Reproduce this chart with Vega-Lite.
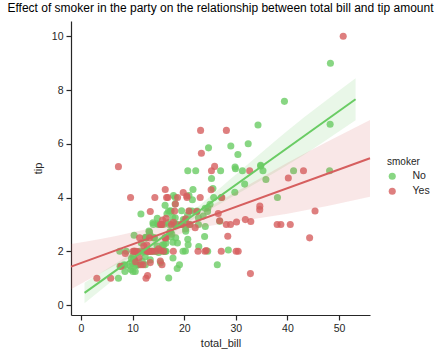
{
  "$schema": "https://vega.github.io/schema/vega-lite/v6.json",
  "autosize": "none",
  "width": 299,
  "height": 294,
  "padding": {"left": 71, "top": 21, "right": 70, "bottom": 41},
  "title": {"text": "Effect of smoker in the party on the relationship between total bill and tip amount", "fontSize": 12, "fontWeight": "normal", "color": "#000000", "offset": 6, "anchor": "middle"},
  "config": {
    "font": "Liberation Sans",
    "view": {"stroke": null},
    "axis": {"grid": false, "domainColor": "#262626", "tickColor": "#262626", "labelColor": "#262626", "titleColor": "#262626", "labelFontSize": 10.5, "titleFontSize": 11, "titleFontWeight": "normal", "tickSize": 5, "domainWidth": 1.2, "tickWidth": 1.2, "labelPadding": 3},
    "legend": {"titleFontSize": 10, "labelFontSize": 10.5, "titleFontWeight": "normal", "titleColor": "#262626", "labelColor": "#262626"}
  },
  "datasets": {
    "tips": [
{"total_bill":16.99,"tip":1.01,"smoker":"No"},
{"total_bill":10.34,"tip":1.66,"smoker":"No"},
{"total_bill":21.01,"tip":3.5,"smoker":"No"},
{"total_bill":23.68,"tip":3.31,"smoker":"No"},
{"total_bill":24.59,"tip":3.61,"smoker":"No"},
{"total_bill":25.29,"tip":4.71,"smoker":"No"},
{"total_bill":8.77,"tip":2.0,"smoker":"No"},
{"total_bill":26.88,"tip":3.12,"smoker":"No"},
{"total_bill":15.04,"tip":1.96,"smoker":"No"},
{"total_bill":14.78,"tip":3.23,"smoker":"No"},
{"total_bill":10.27,"tip":1.71,"smoker":"No"},
{"total_bill":35.26,"tip":5.0,"smoker":"No"},
{"total_bill":15.42,"tip":1.57,"smoker":"No"},
{"total_bill":18.43,"tip":3.0,"smoker":"No"},
{"total_bill":14.83,"tip":3.02,"smoker":"No"},
{"total_bill":21.58,"tip":3.92,"smoker":"No"},
{"total_bill":10.33,"tip":1.67,"smoker":"No"},
{"total_bill":16.29,"tip":3.71,"smoker":"No"},
{"total_bill":16.97,"tip":3.5,"smoker":"No"},
{"total_bill":20.65,"tip":3.35,"smoker":"No"},
{"total_bill":17.92,"tip":4.08,"smoker":"No"},
{"total_bill":20.29,"tip":2.75,"smoker":"No"},
{"total_bill":15.77,"tip":2.23,"smoker":"No"},
{"total_bill":39.42,"tip":7.58,"smoker":"No"},
{"total_bill":19.82,"tip":3.18,"smoker":"No"},
{"total_bill":17.81,"tip":2.34,"smoker":"No"},
{"total_bill":13.37,"tip":2.0,"smoker":"No"},
{"total_bill":12.69,"tip":2.0,"smoker":"No"},
{"total_bill":21.7,"tip":4.3,"smoker":"No"},
{"total_bill":19.65,"tip":3.0,"smoker":"No"},
{"total_bill":9.55,"tip":1.45,"smoker":"No"},
{"total_bill":18.35,"tip":2.5,"smoker":"No"},
{"total_bill":15.06,"tip":3.0,"smoker":"No"},
{"total_bill":20.69,"tip":2.45,"smoker":"No"},
{"total_bill":17.78,"tip":3.27,"smoker":"No"},
{"total_bill":24.06,"tip":3.6,"smoker":"No"},
{"total_bill":16.31,"tip":2.0,"smoker":"No"},
{"total_bill":16.93,"tip":3.07,"smoker":"No"},
{"total_bill":18.69,"tip":2.31,"smoker":"No"},
{"total_bill":31.27,"tip":5.0,"smoker":"No"},
{"total_bill":16.04,"tip":2.24,"smoker":"No"},
{"total_bill":17.46,"tip":2.54,"smoker":"No"},
{"total_bill":13.94,"tip":3.06,"smoker":"No"},
{"total_bill":9.68,"tip":1.32,"smoker":"No"},
{"total_bill":30.4,"tip":5.6,"smoker":"No"},
{"total_bill":18.29,"tip":3.0,"smoker":"No"},
{"total_bill":22.23,"tip":5.0,"smoker":"No"},
{"total_bill":32.4,"tip":6.0,"smoker":"No"},
{"total_bill":28.55,"tip":2.05,"smoker":"No"},
{"total_bill":18.04,"tip":3.0,"smoker":"No"},
{"total_bill":12.54,"tip":2.5,"smoker":"No"},
{"total_bill":10.29,"tip":2.6,"smoker":"No"},
{"total_bill":34.81,"tip":5.2,"smoker":"No"},
{"total_bill":9.94,"tip":1.56,"smoker":"No"},
{"total_bill":25.56,"tip":4.34,"smoker":"No"},
{"total_bill":19.49,"tip":3.51,"smoker":"No"},
{"total_bill":38.01,"tip":3.0,"smoker":"Yes"},
{"total_bill":26.41,"tip":1.5,"smoker":"No"},
{"total_bill":11.24,"tip":1.76,"smoker":"Yes"},
{"total_bill":48.27,"tip":6.73,"smoker":"No"},
{"total_bill":20.29,"tip":3.21,"smoker":"Yes"},
{"total_bill":13.81,"tip":2.0,"smoker":"Yes"},
{"total_bill":11.02,"tip":1.98,"smoker":"Yes"},
{"total_bill":18.29,"tip":3.76,"smoker":"Yes"},
{"total_bill":17.59,"tip":2.64,"smoker":"No"},
{"total_bill":20.08,"tip":3.15,"smoker":"No"},
{"total_bill":16.45,"tip":2.47,"smoker":"No"},
{"total_bill":3.07,"tip":1.0,"smoker":"Yes"},
{"total_bill":20.23,"tip":2.01,"smoker":"No"},
{"total_bill":15.01,"tip":2.09,"smoker":"Yes"},
{"total_bill":12.02,"tip":1.97,"smoker":"No"},
{"total_bill":17.07,"tip":3.0,"smoker":"No"},
{"total_bill":26.86,"tip":3.14,"smoker":"Yes"},
{"total_bill":25.28,"tip":5.0,"smoker":"Yes"},
{"total_bill":14.73,"tip":2.2,"smoker":"No"},
{"total_bill":10.51,"tip":1.25,"smoker":"No"},
{"total_bill":17.92,"tip":3.08,"smoker":"Yes"},
{"total_bill":27.2,"tip":4.0,"smoker":"No"},
{"total_bill":22.76,"tip":3.0,"smoker":"No"},
{"total_bill":17.29,"tip":2.71,"smoker":"No"},
{"total_bill":19.44,"tip":3.0,"smoker":"Yes"},
{"total_bill":16.66,"tip":3.4,"smoker":"No"},
{"total_bill":10.07,"tip":1.83,"smoker":"No"},
{"total_bill":32.68,"tip":5.0,"smoker":"Yes"},
{"total_bill":15.98,"tip":2.03,"smoker":"No"},
{"total_bill":34.83,"tip":5.17,"smoker":"No"},
{"total_bill":13.03,"tip":2.0,"smoker":"No"},
{"total_bill":18.28,"tip":4.0,"smoker":"No"},
{"total_bill":24.71,"tip":5.85,"smoker":"No"},
{"total_bill":21.16,"tip":3.0,"smoker":"No"},
{"total_bill":28.97,"tip":3.0,"smoker":"Yes"},
{"total_bill":22.49,"tip":3.5,"smoker":"No"},
{"total_bill":5.75,"tip":1.0,"smoker":"Yes"},
{"total_bill":16.32,"tip":4.3,"smoker":"Yes"},
{"total_bill":22.75,"tip":3.25,"smoker":"No"},
{"total_bill":40.17,"tip":4.73,"smoker":"Yes"},
{"total_bill":27.28,"tip":4.0,"smoker":"Yes"},
{"total_bill":12.03,"tip":1.5,"smoker":"Yes"},
{"total_bill":21.01,"tip":3.0,"smoker":"Yes"},
{"total_bill":12.46,"tip":1.5,"smoker":"No"},
{"total_bill":11.35,"tip":2.5,"smoker":"Yes"},
{"total_bill":15.38,"tip":3.0,"smoker":"Yes"},
{"total_bill":44.3,"tip":2.5,"smoker":"Yes"},
{"total_bill":22.42,"tip":3.48,"smoker":"Yes"},
{"total_bill":20.92,"tip":4.08,"smoker":"No"},
{"total_bill":15.36,"tip":1.64,"smoker":"Yes"},
{"total_bill":20.49,"tip":4.06,"smoker":"Yes"},
{"total_bill":25.21,"tip":4.29,"smoker":"Yes"},
{"total_bill":18.24,"tip":3.76,"smoker":"No"},
{"total_bill":14.31,"tip":4.0,"smoker":"Yes"},
{"total_bill":14.0,"tip":3.0,"smoker":"No"},
{"total_bill":7.25,"tip":1.0,"smoker":"No"},
{"total_bill":38.07,"tip":4.0,"smoker":"No"},
{"total_bill":23.95,"tip":2.55,"smoker":"No"},
{"total_bill":25.71,"tip":4.0,"smoker":"No"},
{"total_bill":17.31,"tip":3.5,"smoker":"No"},
{"total_bill":29.93,"tip":5.07,"smoker":"No"},
{"total_bill":10.65,"tip":1.5,"smoker":"No"},
{"total_bill":12.43,"tip":1.8,"smoker":"No"},
{"total_bill":24.08,"tip":2.92,"smoker":"No"},
{"total_bill":11.69,"tip":2.31,"smoker":"No"},
{"total_bill":13.42,"tip":1.68,"smoker":"No"},
{"total_bill":14.26,"tip":2.5,"smoker":"No"},
{"total_bill":15.95,"tip":2.0,"smoker":"No"},
{"total_bill":12.48,"tip":2.52,"smoker":"No"},
{"total_bill":29.8,"tip":4.2,"smoker":"No"},
{"total_bill":8.52,"tip":1.48,"smoker":"No"},
{"total_bill":14.52,"tip":2.0,"smoker":"No"},
{"total_bill":11.38,"tip":2.0,"smoker":"No"},
{"total_bill":22.82,"tip":2.18,"smoker":"No"},
{"total_bill":19.08,"tip":1.5,"smoker":"No"},
{"total_bill":20.27,"tip":2.83,"smoker":"No"},
{"total_bill":11.17,"tip":1.5,"smoker":"No"},
{"total_bill":12.26,"tip":2.0,"smoker":"No"},
{"total_bill":18.26,"tip":3.25,"smoker":"No"},
{"total_bill":8.51,"tip":1.25,"smoker":"No"},
{"total_bill":10.33,"tip":2.0,"smoker":"No"},
{"total_bill":14.15,"tip":2.0,"smoker":"No"},
{"total_bill":16.0,"tip":2.0,"smoker":"Yes"},
{"total_bill":13.16,"tip":2.75,"smoker":"No"},
{"total_bill":17.47,"tip":3.5,"smoker":"No"},
{"total_bill":34.3,"tip":6.7,"smoker":"No"},
{"total_bill":41.19,"tip":5.0,"smoker":"No"},
{"total_bill":27.05,"tip":5.0,"smoker":"No"},
{"total_bill":16.43,"tip":2.3,"smoker":"No"},
{"total_bill":8.35,"tip":1.5,"smoker":"No"},
{"total_bill":18.64,"tip":1.36,"smoker":"No"},
{"total_bill":11.87,"tip":1.63,"smoker":"No"},
{"total_bill":9.78,"tip":1.73,"smoker":"No"},
{"total_bill":7.51,"tip":2.0,"smoker":"No"},
{"total_bill":14.07,"tip":2.5,"smoker":"No"},
{"total_bill":13.13,"tip":2.0,"smoker":"No"},
{"total_bill":17.26,"tip":2.74,"smoker":"No"},
{"total_bill":24.55,"tip":2.0,"smoker":"No"},
{"total_bill":19.77,"tip":2.0,"smoker":"No"},
{"total_bill":29.85,"tip":5.14,"smoker":"No"},
{"total_bill":48.17,"tip":5.0,"smoker":"No"},
{"total_bill":25.0,"tip":3.75,"smoker":"No"},
{"total_bill":13.39,"tip":2.61,"smoker":"No"},
{"total_bill":16.49,"tip":2.0,"smoker":"No"},
{"total_bill":21.5,"tip":3.5,"smoker":"No"},
{"total_bill":12.66,"tip":2.5,"smoker":"No"},
{"total_bill":16.21,"tip":2.0,"smoker":"No"},
{"total_bill":13.81,"tip":2.0,"smoker":"No"},
{"total_bill":17.51,"tip":3.0,"smoker":"Yes"},
{"total_bill":24.52,"tip":3.48,"smoker":"No"},
{"total_bill":20.76,"tip":2.24,"smoker":"No"},
{"total_bill":31.71,"tip":4.5,"smoker":"No"},
{"total_bill":10.59,"tip":1.61,"smoker":"Yes"},
{"total_bill":10.63,"tip":2.0,"smoker":"Yes"},
{"total_bill":50.81,"tip":10.0,"smoker":"Yes"},
{"total_bill":15.81,"tip":3.16,"smoker":"Yes"},
{"total_bill":7.25,"tip":5.15,"smoker":"Yes"},
{"total_bill":31.85,"tip":3.18,"smoker":"Yes"},
{"total_bill":16.82,"tip":4.0,"smoker":"Yes"},
{"total_bill":32.9,"tip":3.11,"smoker":"Yes"},
{"total_bill":17.89,"tip":2.0,"smoker":"Yes"},
{"total_bill":14.48,"tip":2.0,"smoker":"Yes"},
{"total_bill":9.6,"tip":4.0,"smoker":"Yes"},
{"total_bill":34.63,"tip":3.55,"smoker":"Yes"},
{"total_bill":34.65,"tip":3.68,"smoker":"Yes"},
{"total_bill":23.33,"tip":5.65,"smoker":"Yes"},
{"total_bill":45.35,"tip":3.5,"smoker":"Yes"},
{"total_bill":23.17,"tip":6.5,"smoker":"Yes"},
{"total_bill":40.55,"tip":3.0,"smoker":"Yes"},
{"total_bill":20.69,"tip":5.0,"smoker":"No"},
{"total_bill":20.9,"tip":3.5,"smoker":"Yes"},
{"total_bill":30.46,"tip":2.0,"smoker":"Yes"},
{"total_bill":18.15,"tip":3.5,"smoker":"Yes"},
{"total_bill":23.1,"tip":4.0,"smoker":"Yes"},
{"total_bill":15.69,"tip":1.5,"smoker":"Yes"},
{"total_bill":19.81,"tip":4.19,"smoker":"Yes"},
{"total_bill":28.44,"tip":2.56,"smoker":"Yes"},
{"total_bill":15.48,"tip":2.02,"smoker":"Yes"},
{"total_bill":16.58,"tip":4.0,"smoker":"Yes"},
{"total_bill":7.56,"tip":1.44,"smoker":"No"},
{"total_bill":10.34,"tip":2.0,"smoker":"Yes"},
{"total_bill":43.11,"tip":5.0,"smoker":"Yes"},
{"total_bill":13.0,"tip":2.0,"smoker":"Yes"},
{"total_bill":13.51,"tip":2.0,"smoker":"Yes"},
{"total_bill":18.71,"tip":4.0,"smoker":"Yes"},
{"total_bill":12.74,"tip":2.01,"smoker":"Yes"},
{"total_bill":13.0,"tip":2.0,"smoker":"Yes"},
{"total_bill":16.4,"tip":2.5,"smoker":"Yes"},
{"total_bill":20.53,"tip":4.0,"smoker":"Yes"},
{"total_bill":16.47,"tip":3.23,"smoker":"Yes"},
{"total_bill":26.59,"tip":3.41,"smoker":"Yes"},
{"total_bill":38.73,"tip":3.0,"smoker":"Yes"},
{"total_bill":24.27,"tip":2.03,"smoker":"Yes"},
{"total_bill":12.76,"tip":2.23,"smoker":"Yes"},
{"total_bill":30.06,"tip":2.0,"smoker":"Yes"},
{"total_bill":25.89,"tip":5.16,"smoker":"Yes"},
{"total_bill":48.33,"tip":9.0,"smoker":"No"},
{"total_bill":13.27,"tip":2.5,"smoker":"Yes"},
{"total_bill":28.17,"tip":6.5,"smoker":"Yes"},
{"total_bill":12.9,"tip":1.1,"smoker":"Yes"},
{"total_bill":28.15,"tip":3.0,"smoker":"Yes"},
{"total_bill":11.59,"tip":1.5,"smoker":"Yes"},
{"total_bill":7.74,"tip":1.44,"smoker":"Yes"},
{"total_bill":30.14,"tip":3.09,"smoker":"Yes"},
{"total_bill":12.16,"tip":2.2,"smoker":"Yes"},
{"total_bill":13.42,"tip":3.48,"smoker":"Yes"},
{"total_bill":8.58,"tip":1.92,"smoker":"Yes"},
{"total_bill":15.98,"tip":3.0,"smoker":"No"},
{"total_bill":13.42,"tip":1.58,"smoker":"Yes"},
{"total_bill":16.27,"tip":2.5,"smoker":"Yes"},
{"total_bill":10.09,"tip":2.0,"smoker":"Yes"},
{"total_bill":20.45,"tip":3.0,"smoker":"No"},
{"total_bill":13.28,"tip":2.72,"smoker":"No"},
{"total_bill":22.12,"tip":2.88,"smoker":"Yes"},
{"total_bill":24.01,"tip":2.0,"smoker":"Yes"},
{"total_bill":15.69,"tip":3.0,"smoker":"Yes"},
{"total_bill":11.61,"tip":3.39,"smoker":"No"},
{"total_bill":10.77,"tip":1.47,"smoker":"No"},
{"total_bill":15.53,"tip":3.0,"smoker":"Yes"},
{"total_bill":10.07,"tip":1.25,"smoker":"No"},
{"total_bill":12.6,"tip":1.0,"smoker":"Yes"},
{"total_bill":32.83,"tip":1.17,"smoker":"Yes"},
{"total_bill":35.83,"tip":4.67,"smoker":"No"},
{"total_bill":29.03,"tip":5.92,"smoker":"No"},
{"total_bill":27.18,"tip":2.0,"smoker":"Yes"},
{"total_bill":22.67,"tip":2.0,"smoker":"Yes"},
{"total_bill":17.82,"tip":1.75,"smoker":"No"},
{"total_bill":18.78,"tip":3.0,"smoker":"No"}
    ],
    "bands": [
      {"smoker":"No","total_bill":0.68,"lo":0.07,"hi":0.83},
      {"smoker":"No","total_bill":10,"lo":1.51,"hi":1.95},
      {"smoker":"No","total_bill":19,"lo":2.84,"hi":3.10},
      {"smoker":"No","total_bill":30,"lo":4.10,"hi":4.86},
      {"smoker":"No","total_bill":40,"lo":5.21,"hi":6.49},
      {"smoker":"No","total_bill":53.2,"lo":6.88,"hi":8.44},
      {"smoker":"Yes","total_bill":-1.94,"lo":0.59,"hi":2.27},
      {"smoker":"Yes","total_bill":10,"lo":1.81,"hi":2.71},
      {"smoker":"Yes","total_bill":20.8,"lo":2.76,"hi":3.28},
      {"smoker":"Yes","total_bill":30,"lo":3.10,"hi":4.21},
      {"smoker":"Yes","total_bill":40,"lo":3.40,"hi":5.30},
      {"smoker":"Yes","total_bill":56,"lo":4.03,"hi":6.89}
    ]
  },
  "encoding": {
    "x": {"field": "total_bill", "type": "quantitative", "scale": {"domain": [-1.94, 56.0], "nice": false, "zero": false}, "axis": {"values": [0, 10, 20, 30, 40, 50], "title": "total_bill", "titlePadding": 4}},
    "y": {"field": "tip", "type": "quantitative", "scale": {"domain": [-0.37, 10.57], "nice": false, "zero": false}, "axis": {"values": [0, 2, 4, 6, 8, 10], "title": "tip", "titlePadding": 8}}
  },
  "layer": [
    {
      "data": {"name": "tips"},
      "transform": [{"filter": "datum.smoker === 'No'"}],
      "mark": {"type": "circle", "size": 50, "opacity": 0.8},
      "encoding": {
        "color": {"field": "smoker", "type": "nominal", "scale": {"domain": ["No", "Yes"], "range": ["#6acc64", "#d65f5f"]},
          "legend": {"orient": "none", "legendX": 316, "legendY": 136, "title": "smoker", "symbolType": "circle", "symbolSize": 50, "symbolOpacity": 0.8, "labelOffset": 15, "rowPadding": 4, "titlePadding": 4}}
      }
    },
    {
      "data": {"name": "bands"},
      "transform": [{"filter": "datum.smoker === 'No'"}],
      "mark": {"type": "area", "color": "#6acc64", "opacity": 0.15, "interpolate": "monotone"},
      "encoding": {"y": {"field": "lo", "type": "quantitative"}, "y2": {"field": "hi"}}
    },
    {
      "data": {"name": "tips"},
      "transform": [{"filter": "datum.smoker === 'Yes'"}],
      "mark": {"type": "circle", "size": 50, "opacity": 0.8},
      "encoding": {
        "color": {"field": "smoker", "type": "nominal"}
      }
    },
    {
      "data": {"name": "bands"},
      "transform": [{"filter": "datum.smoker === 'Yes'"}],
      "mark": {"type": "area", "color": "#d65f5f", "opacity": 0.15, "interpolate": "monotone"},
      "encoding": {"y": {"field": "lo", "type": "quantitative"}, "y2": {"field": "hi"}}
    },
    {
      "data": {"name": "tips"},
      "transform": [{"filter": "datum.smoker === 'No'"}, {"regression": "tip", "on": "total_bill", "extent": [0.68, 53.2]}],
      "mark": {"type": "line", "color": "#6acc64", "strokeWidth": 2},
      "encoding": {}
    },
    {
      "data": {"name": "tips"},
      "transform": [{"filter": "datum.smoker === 'Yes'"}, {"regression": "tip", "on": "total_bill", "extent": [-1.94, 56.0]}],
      "mark": {"type": "line", "color": "#d65f5f", "strokeWidth": 2},
      "encoding": {}
    }
  ]
}
